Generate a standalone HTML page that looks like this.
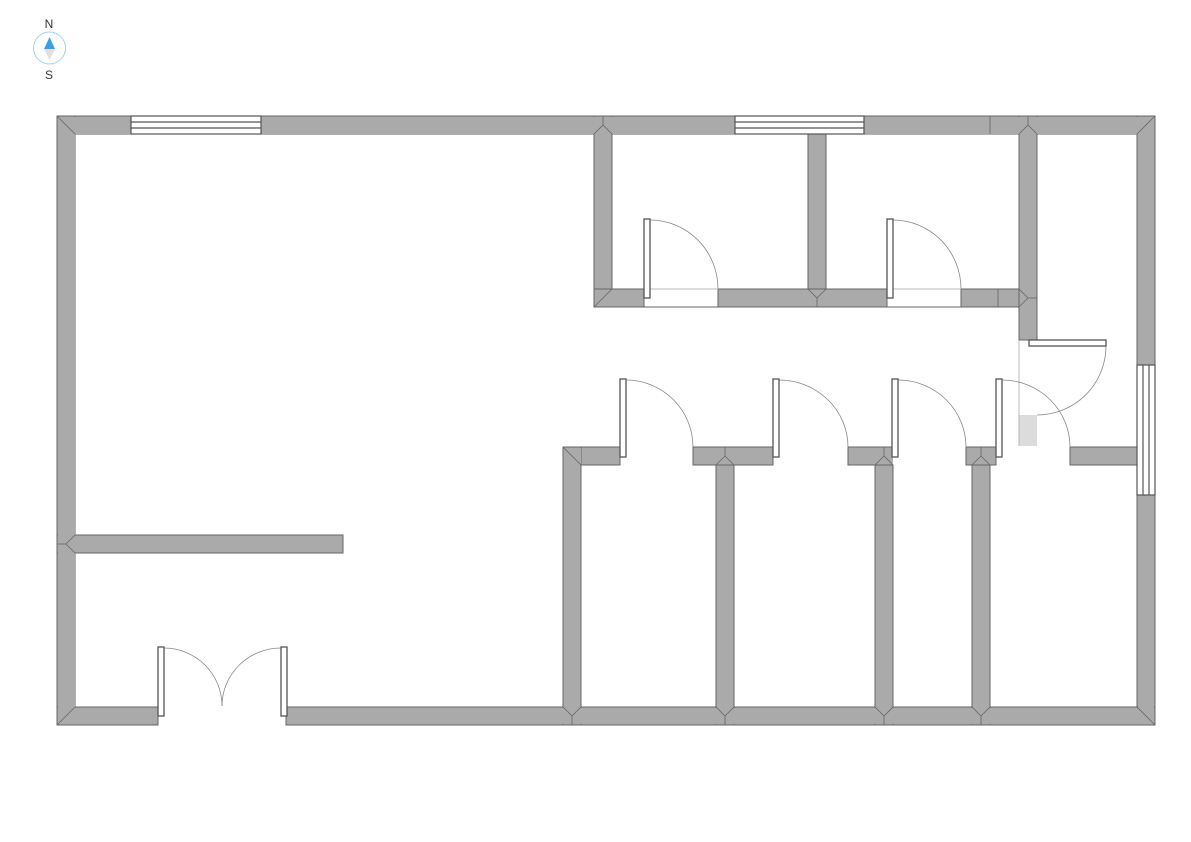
<!DOCTYPE html>
<html><head><meta charset="utf-8"><style>
html,body{margin:0;padding:0;background:#fff;width:1191px;height:842px;overflow:hidden}
svg{display:block}
</style></head><body>
<svg width="1191" height="842" viewBox="0 0 1191 842" xmlns="http://www.w3.org/2000/svg">
<!-- compass -->
<text x="49" y="28" font-family="Liberation Sans, sans-serif" font-size="12" fill="#333" text-anchor="middle">N</text>
<text x="49" y="79" font-family="Liberation Sans, sans-serif" font-size="12" fill="#333" text-anchor="middle">S</text>
<circle cx="49.5" cy="48" r="16" fill="none" stroke="#9fd0f5" stroke-width="1"/>
<polygon points="49.5,37 44,49 55,49" fill="#3c9de8"/>
<polygon points="44,49 55,49 49.5,60" fill="#e0e0e0"/>
<g fill="#aaa" stroke="#666" stroke-width="1">
<!-- outer walls -->
<rect x="57" y="116" width="74" height="18"/>
<rect x="261" y="116" width="474" height="18"/>
<rect x="864" y="116" width="291" height="18"/>
<rect x="57" y="116" width="18" height="609"/>
<rect x="1137" y="116" width="18" height="249"/>
<rect x="1137" y="495" width="18" height="230"/>
<rect x="57" y="707" width="101" height="18"/>
<rect x="286" y="707" width="869" height="18"/>
<!-- left partition -->
<rect x="57" y="535" width="286" height="18"/>
<!-- upper rooms -->
<rect x="594" y="116" width="18" height="191"/>
<rect x="594" y="289" width="50" height="18"/>
<rect x="718" y="289" width="169" height="18"/>
<rect x="961" y="289" width="76" height="18"/>
<rect x="808" y="134" width="18" height="155"/>
<rect x="1019" y="116" width="18" height="224"/>
<!-- lower rooms -->
<rect x="563" y="447" width="57" height="18"/>
<rect x="693" y="447" width="80" height="18"/>
<rect x="848" y="447" width="44" height="18"/>
<rect x="966" y="447" width="30" height="18"/>
<rect x="1070" y="447" width="67" height="18"/>
<rect x="563" y="447" width="18" height="278"/>
<rect x="716" y="465" width="18" height="260"/>
<rect x="875" y="465" width="18" height="260"/>
<rect x="972" y="465" width="18" height="260"/>
</g>
<!-- cover inner seams -->
<g fill="#aaa">
<rect x="58" y="117" width="17" height="607"/>
<rect x="58" y="117" width="73" height="17"/>
<rect x="262" y="117" width="472" height="17"/>
<rect x="865" y="117" width="289" height="17"/>
<rect x="1138" y="117" width="16" height="247"/>
<rect x="1138" y="496" width="16" height="228"/>
<rect x="58" y="708" width="99" height="16"/>
<rect x="287" y="708" width="867" height="16"/>
<rect x="58" y="536" width="17" height="16"/>
<rect x="595" y="290" width="17" height="16"/>
<rect x="595" y="117" width="16" height="17"/>
<rect x="1020" y="117" width="16" height="17"/>
<rect x="1020" y="290" width="16" height="16"/>
<rect x="809" y="290" width="16" height="16"/>
<rect x="564" y="448" width="17" height="16"/>
<rect x="717" y="448" width="16" height="16"/>
<rect x="876" y="448" width="16" height="16"/>
<rect x="973" y="448" width="16" height="16"/>
<rect x="564" y="708" width="16" height="16"/>
<rect x="717" y="708" width="16" height="16"/>
<rect x="876" y="708" width="16" height="16"/>
<rect x="973" y="708" width="16" height="16"/>
</g>
<!-- joint lines -->
<g stroke="#666" stroke-width="0.8" fill="none">
<path d="M57,116 L75,134 M1155,116 L1137,134 M57,725 L75,707 M1155,725 L1137,707"/>
<path d="M57,544 L66,544 L75,535 M66,544 L75,553"/>
<path d="M603,116 L603,125 L594,134 M603,125 L612,134"/>
<path d="M594,307 L612,289"/>
<path d="M817,307 L817,298 L808,289 M817,298 L826,289"/>
<path d="M990,116 L990,134 M1028,116 L1028,125 L1019,134 M1028,125 L1037,134"/>
<path d="M998,289 L998,307 M1028,298 L1037,298 M1028,298 L1019,289 M1028,298 L1019,307"/>
<path d="M563,447 L581,465"/>
<path d="M725,447 L725,456 L716,465 M725,456 L734,465"/>
<path d="M884,447 L884,456 L875,465 M884,456 L893,465"/>
<path d="M981,447 L981,456 L972,465 M981,456 L990,465"/>
<path d="M572,725 L572,716 L563,707 M572,716 L581,707"/>
<path d="M725,725 L725,716 L716,707 M725,716 L734,707"/>
<path d="M884,725 L884,716 L875,707 M884,716 L893,707"/>
<path d="M981,725 L981,716 L972,707 M981,716 L990,707"/>
<path d="M612,289 L612,134 M612,289 L644,289 M594,307 L644,307"/>
</g>
<!-- windows -->
<g fill="#fff" stroke="#555" stroke-width="1.2">
<rect x="131" y="116" width="130" height="18"/>
<rect x="735" y="116" width="129" height="18"/>
<rect x="1137" y="365" width="18" height="130"/>
</g>
<g stroke="#555" stroke-width="1.2">
<path d="M131,122 H261 M131,128 H261 M735,122 H864 M735,128 H864 M1143,365 V495 M1149,365 V495"/>
</g>
<!-- upper room door openings -->
<g stroke="#bbb" stroke-width="1" fill="none">
<path d="M650,289 H718 M893,289 H961"/>
</g>
<g stroke="#666" stroke-width="1" fill="none">
<path d="M644,307 H718 M887,307 H961"/>
</g>
<rect x="1019" y="415" width="18" height="31" fill="#dcdcdc"/>
<path d="M1019,340 V446" stroke="#aaa" stroke-width="0.8" fill="none"/>
<!-- door arcs -->
<g stroke="#888" stroke-width="0.8" fill="none">
<path d="M650,220 A68,69 0 0 1 718,289"/>
<path d="M893,220 A68,69 0 0 1 961,289"/>
<path d="M626,380 A67,67 0 0 1 693,447"/>
<path d="M779,380 A69,67 0 0 1 848,447"/>
<path d="M898,380 A68,67 0 0 1 966,447"/>
<path d="M1002,380 A68,67 0 0 1 1070,447"/>
<path d="M1106,346 A69,69 0 0 1 1037,415"/>
<path d="M164,648 A58,58 0 0 1 222,706"/>
<path d="M281,648 A59,58 0 0 0 222,706"/>
</g>
<!-- door leaves -->
<g fill="#fff" stroke="#555" stroke-width="1.3">
<rect x="644" y="219" width="6" height="79"/>
<rect x="887" y="219" width="6" height="79"/>
<rect x="620" y="379" width="6" height="78"/>
<rect x="773" y="379" width="6" height="78"/>
<rect x="892" y="379" width="6" height="78"/>
<rect x="996" y="379" width="6" height="78"/>
<rect x="1029" y="340" width="77" height="6"/>
<rect x="158" y="647" width="6" height="69"/>
<rect x="281" y="647" width="6" height="69"/>
</g>
</svg>
</body></html>
